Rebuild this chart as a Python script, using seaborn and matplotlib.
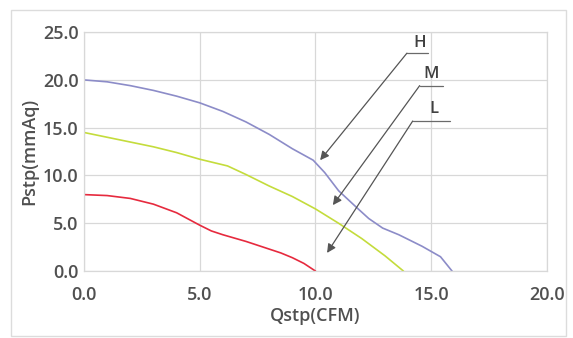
import matplotlib
matplotlib.use("Agg")
import matplotlib.pyplot as plt
import seaborn as sns
import pandas as pd
from matplotlib.patches import Rectangle

# curve data
h_q = [0, 1, 2, 3, 4, 5, 6, 7, 8, 9, 9.9, 10.4, 11, 11.8, 12.3, 12.9, 13.6, 14.6, 15.4, 15.9]
h_p = [20, 19.8, 19.4, 18.9, 18.3, 17.6, 16.7, 15.6, 14.3, 12.8, 11.6, 10.3, 8.4, 6.6, 5.5, 4.5, 3.8, 2.6, 1.5, 0]
m_q = [0, 1, 2, 3, 4, 5, 6.2, 7, 8, 9, 10, 11, 12, 13, 13.8]
m_p = [14.5, 14.0, 13.5, 13.0, 12.4, 11.7, 11.0, 10.1, 8.9, 7.8, 6.5, 5.0, 3.4, 1.6, 0]
l_q = [0, 1, 2, 3, 4, 5, 5.5, 6, 7, 8, 8.5, 9, 9.5, 10]
l_p = [8, 7.9, 7.6, 7.0, 6.1, 4.8, 4.2, 3.8, 3.1, 2.3, 1.9, 1.4, 0.8, 0]

speeds = ["H", "M", "L"]
colors = {"H": "#8c8cc8", "M": "#c4dc3c", "L": "#e62a3e"}

# label position, underline span and arrow tip for each curve
label_xy = {"H": (14.5, 23.9), "M": (15.0, 20.6), "L": (15.1, 17.0)}
under_x = {"H": (13.95, 14.85), "M": (14.5, 15.5), "L": (14.2, 15.8)}
under_y = {"H": 22.8, "M": 19.4, "L": 15.7}
tips = {"H": (10.2, 11.6), "M": (10.75, 6.9), "L": (10.5, 1.9)}

rows = []
for s, qs, ps in [("H", h_q, h_p), ("M", m_q, m_p), ("L", l_q, l_p)]:
    for q, p in zip(qs, ps):
        rows.append({"speed": s, "Q": q, "P": p})
df = pd.DataFrame(rows)

sns.set_style("white")
plt.rcParams["font.family"] = ["Open Sans", "DejaVu Sans"]

fig = plt.figure(figsize=(5.73, 3.38), dpi=100)
fig.patches.append(Rectangle((0.019, 0.006), 0.969, 0.963, transform=fig.transFigure,
                             fill=False, edgecolor="#dcdcdc", linewidth=1))
ax = fig.add_axes([0.1466, 0.198, 0.808, 0.707])

sns.lineplot(data=df, x="Q", y="P", hue="speed", palette=colors, sort=False,
             estimator=None, legend=False, linewidth=1.2, ax=ax)

ax.set_xlim(0, 20)
ax.set_ylim(0, 25)
ax.set_xticks([0, 5, 10, 15, 20])
ax.set_yticks([0, 5, 10, 15, 20, 25])
ax.set_xticklabels([f"{v:.1f}" for v in [0, 5, 10, 15, 20]])
ax.set_yticklabels([f"{v:.1f}" for v in [0, 5, 10, 15, 20, 25]])
ax.grid(True, color="#d8d8d8", linewidth=0.9)
for sp in ax.spines.values():
    sp.set_color("#d8d8d8")
    sp.set_linewidth(0.9)
ax.tick_params(length=0, labelsize=13, colors="#505050")
ax.tick_params(axis="x", pad=11)
ax.tick_params(axis="y", pad=4)
for t in ax.get_xticklabels() + ax.get_yticklabels():
    t.set_fontweight("semibold")
ax.set_xlabel("Qstp(CFM)", fontsize=13, color="#505050", fontweight="semibold", labelpad=2)
ax.set_ylabel("Pstp(mmAq)", fontsize=13, color="#505050", fontweight="semibold", labelpad=3)

for s in speeds:
    x0, x1 = under_x[s]
    ax.plot([x0, x1], [under_y[s], under_y[s]], color="#6a6a6a", linewidth=0.9, clip_on=False)
    ax.annotate("", xy=tips[s], xytext=(x0, under_y[s]),
                arrowprops=dict(arrowstyle="-|>", color="#555555", lw=0.9,
                                mutation_scale=13, shrinkA=0, shrinkB=0))
    ax.text(label_xy[s][0], label_xy[s][1], s, ha="center", va="center",
            fontsize=12, color="#404040", fontweight="semibold")

fig.savefig("out.png", dpi=100)
